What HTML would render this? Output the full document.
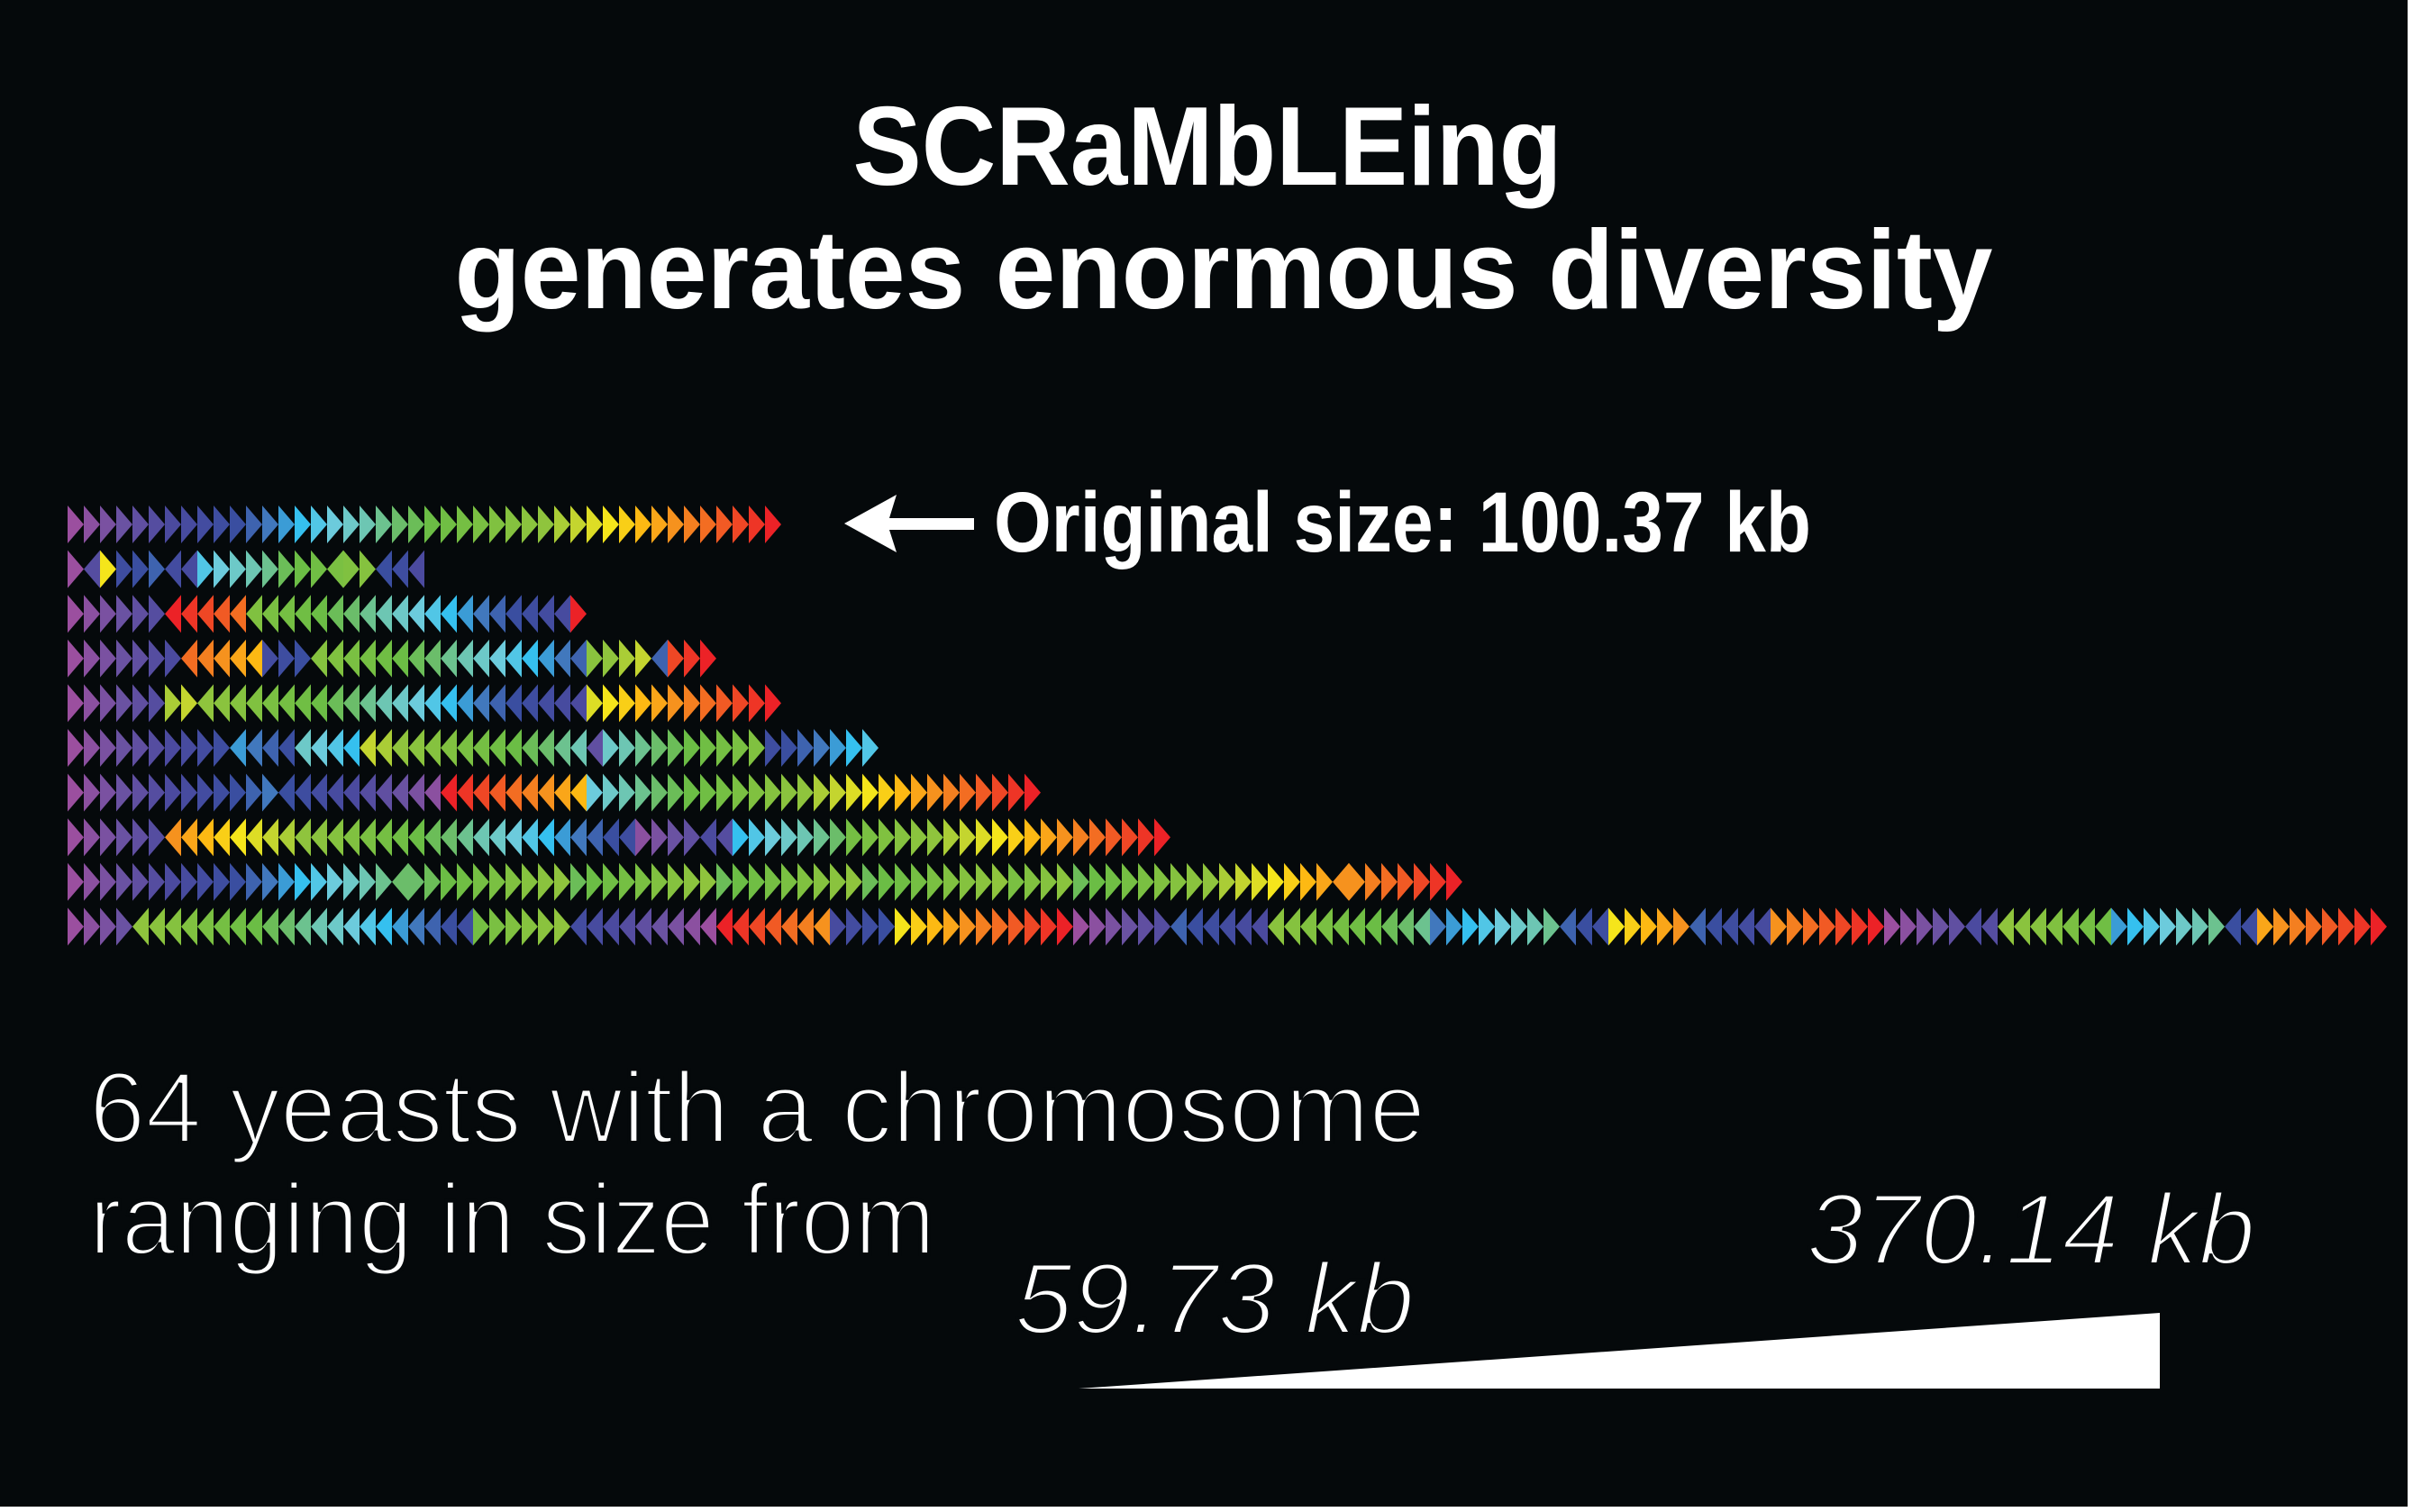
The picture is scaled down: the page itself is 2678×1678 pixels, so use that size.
<!DOCTYPE html>
<html><head><meta charset="utf-8"><style>
html,body{margin:0;padding:0;background:#fff;}
svg{display:block;}
text{font-family:"Liberation Sans",sans-serif;fill:#fff;}
.thin{stroke:#05090b;stroke-width:4;paint-order:normal;}
</style></head><body>
<svg id="chart" width="2678" height="1678" viewBox="0 0 2678 1678" xmlns="http://www.w3.org/2000/svg">
<rect x="0" y="0" width="2672" height="1672" fill="#05090b"/>
<text x="1340" y="205" text-anchor="middle" font-size="124" font-weight="bold" textLength="787" lengthAdjust="spacingAndGlyphs">SCRaMbLEing</text>
<text x="1358" y="342" text-anchor="middle" font-size="124" font-weight="bold" textLength="1707" lengthAdjust="spacingAndGlyphs">generates enormous diversity</text>
<g id="rows"></g>
<g>
<polygon points="937,581 995,549 987,575 1081,575 1081,588 987,588 995,613" fill="#fff"/>
</g>
<text x="1103" y="612" font-size="95" font-weight="bold" textLength="907" lengthAdjust="spacingAndGlyphs">Original size: 100.37 kb</text>
<text class="thin" x="99" y="1268" font-size="112" textLength="1483" lengthAdjust="spacingAndGlyphs">64 yeasts with a chromosome</text>
<text class="thin" x="99" y="1392" font-size="112" textLength="939" lengthAdjust="spacingAndGlyphs">ranging in size from</text>
<text class="thin" x="1126" y="1480" font-size="112" font-style="italic" textLength="444" lengthAdjust="spacingAndGlyphs">59.73 kb</text>
<text class="thin" x="2005" y="1403" font-size="112" font-style="italic" textLength="498" lengthAdjust="spacingAndGlyphs">370.14 kb</text>
<polygon points="1197,1541 2397,1457 2397,1541" fill="#fff"/>
</svg>
<script>
// Segments: [from, to, direction]; direction -1 = inverted (descending, pointing left)
const row1 = [[1,44,1]];
const row2 = [[1,1,1],[6,6,-1],[34,34,1],[10,12,1],[8,9,-1],[16,20,1],[22,24,1],[26,26,-1],[27,28,1],[10,11,-1],[7,7,-1]];
const row3 = [[1,6,1],[40,44,-1],[8,27,-1],[44,44,1]];
const row4 = [[1,7,1],[36,40,-1],[9,11,1],[12,28,-1],[29,32,1],[12,12,-1],[42,44,1]];
const row5 = [[1,6,1],[31,32,1],[21,30,-1],[8,20,-1],[7,7,-1],[33,44,1]];
const row6 = [[1,10,1],[11,14,-1],[15,18,-1],[19,32,-1],[5,5,-1],[18,27,1],[10,16,1]];
const row7 = [[1,13,1],[2,11,-1],[36,44,-1],[17,44,1]];
const row8 = [[1,6,1],[10,38,-1],[2,5,1],[6,7,-1],[15,21,1],[25,44,1]];
const row9 = [[1,20,1],[21,21,-1],[21,30,1],[22,30,1],[22,30,1],[22,30,1],[26,29,1],[22,37,1],[38,38,-1],[38,44,1]];
const row10 = [[1,4,1],[10,30,-1],[25,30,1],[1,9,-1],[38,44,-1],[8,11,1],[34,44,1],[1,6,1],[7,12,-1],[20,29,-1],[13,20,1],[10,12,-1],[34,38,1],[8,12,-1],[38,44,1],[1,5,1],[6,7,-1],[24,30,-1],[14,20,1],[10,11,-1],[37,44,1]];
const rowsData = [row1,row2,row3,row4,row5,row6,row7,row8,row9,row10];

const stops = [[1,'#9b4f9f'],[4,'#6a52a2'],[7,'#4b4a9f'],[11,'#3a4ea0'],[13,'#4178bd'],[15,'#35c0ef'],[17,'#6ccbdc'],[19,'#6dc6b3'],[21,'#6bbd6a'],[23,'#6bbd45'],[30,'#8fc43d'],[32,'#c4d52f'],[34,'#f5e51b'],[36,'#fdb913'],[38,'#f6921e'],[41,'#f15a24'],[44,'#ec2227']];
function hex(c){return [1,3,5].map(i=>parseInt(c.substr(i,2),16));}
function colorOf(k){
  for(let i=0;i<stops.length-1;i++){
    const [a,ca]=stops[i],[b,cb]=stops[i+1];
    if(k>=a&&k<=b){const t=(k-a)/(b-a);const A=hex(ca),B=hex(cb);
      return 'rgb('+A.map((v,j)=>Math.round(v+(B[j]-v)*t)).join(',')+')';}
  }
  return stops[stops.length-1][1];
}
const X0=75, TW=18, TH=42, Y0=582, PITCH=49.6;
const xPos = i => X0 + i*TW;
const yPos = r => Y0 + r*PITCH;
const NS='http://www.w3.org/2000/svg';
const g=document.getElementById('rows');
rowsData.forEach((segs,r)=>{
  const rg=document.createElementNS(NS,'g');
  
  
  g.appendChild(rg);
  let i=0; const cy=yPos(r);
  segs.forEach(([a,b,d])=>{
    const n=b-a+1;
    for(let k=0;k<n;k++){
      const idx = d>0 ? a+k : b-k;
      const x=xPos(i);
      const p=document.createElementNS(NS,'polygon');
      const pts = d>0
        ? [x,cy-TH/2, x+TW,cy, x,cy+TH/2]
        : [x+TW,cy-TH/2, x,cy, x+TW,cy+TH/2];
      p.setAttribute('points',pts.join(' '));
      p.setAttribute('fill',colorOf(idx));
      
      
      rg.appendChild(p);
      i++;
    }
  });
});
</script>
</body></html>
